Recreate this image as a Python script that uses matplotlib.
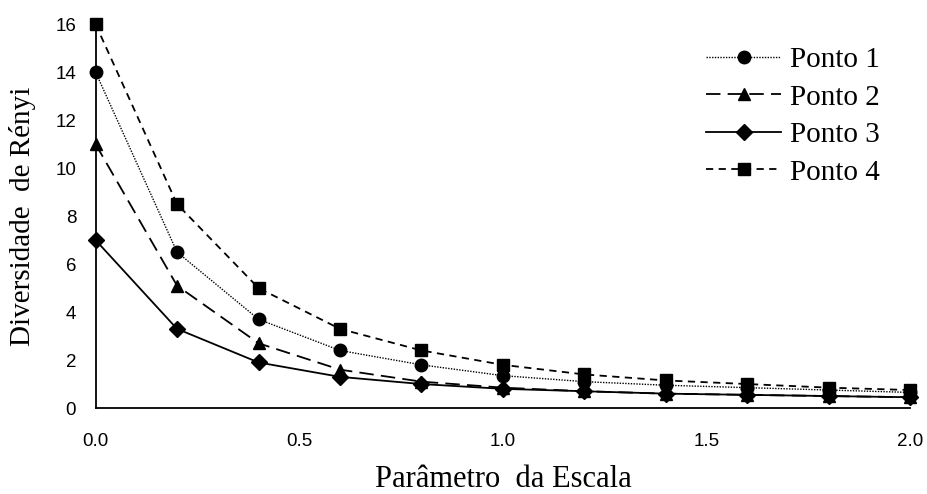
import numpy as np
import matplotlib.pyplot as plt

# Datos
escala = [0.0, 0.2, 0.4, 0.6, 0.8, 1.0, 1.2, 1.4, 1.6, 1.8, 2.0]
ponto1 = [14.0, 6.5, 3.7, 2.4, 1.8, 1.35, 1.1, 0.95, 0.85, 0.75, 0.65]
ponto2 = [11.0, 5.1, 2.7, 1.6, 1.1, 0.85, 0.7, 0.6, 0.55, 0.5, 0.45]
ponto3 = [7.0, 3.3, 1.9, 1.3, 1.0, 0.8, 0.7, 0.6, 0.55, 0.5, 0.45]
ponto4 = [16.0, 8.5, 5.0, 3.3, 2.4, 1.8, 1.4, 1.15, 1.0, 0.85, 0.75]
nomes = ['Ponto 1', 'Ponto 2', 'Ponto 3', 'Ponto 4']

fig = plt.figure(figsize=(9.28, 4.94), dpi=100)
ax = fig.add_axes([0.103, 0.174, 0.878, 0.777])

ax.plot(escala, ponto1, color='black', lw=1.0, ls=(0, (1, 1)), marker='o', ms=9, clip_on=False, label=nomes[0])
ax.plot(escala, ponto2, color='black', lw=1.3, ls=(0, (8, 4)), marker='^', ms=9, clip_on=False, label=nomes[1])
ax.plot(escala, ponto3, color='black', lw=1.3, ls='-', marker='D', ms=8, clip_on=False, label=nomes[2])
ax.plot(escala, ponto4, color='black', lw=1.3, ls=(0, (4, 3)), marker='s', ms=9, clip_on=False, label=nomes[3])

ax.set_xlim(0, 2.0)
ax.set_ylim(0, 16)
ax.set_yticks(np.arange(0, 17, 2))
ax.set_xticks([0.0, 0.5, 1.0, 1.5, 2.0])
ax.set_xticklabels(['0.0', '0.5', '1.0', '1.5', '2.0'])
ax.tick_params(length=0, labelsize=13.5)
ax.tick_params(axis='x', pad=18)
ax.tick_params(axis='y', pad=14)
for t in ax.get_xticklabels() + ax.get_yticklabels():
    t.set_family('Liberation Sans')
ax.spines['top'].set_visible(False)
ax.spines['right'].set_visible(False)
ax.spines['left'].set_linewidth(1.3)
ax.spines['bottom'].set_linewidth(1.3)

ax.set_xlabel('Parâmetro  da Escala', family='Liberation Serif', fontsize=22, labelpad=11)
ax.set_ylabel('Diversidade  de Rényi', family='Liberation Serif', fontsize=21, labelpad=14)

ax.legend(loc='upper right', bbox_to_anchor=(0.995, 1.01), frameon=False,
          prop={'family': 'Liberation Serif', 'size': 21}, handlelength=2.6,
          handletextpad=0.3, labelspacing=0.38)

fig.savefig('out.png', dpi=100)
